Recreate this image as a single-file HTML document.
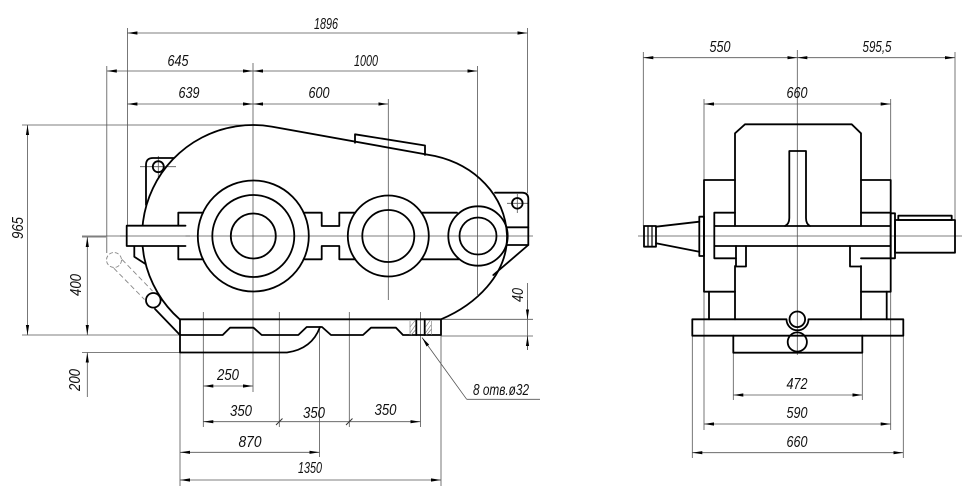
<!DOCTYPE html>
<html><head><meta charset="utf-8"><style>
html,body{margin:0;padding:0;background:#fff;}
svg{display:block;}
.k{stroke:#000;stroke-width:1.8;fill:none;stroke-linejoin:round;stroke-linecap:round;}
.t{stroke:#555;stroke-width:0.8;fill:none;}
.d{stroke:#555;stroke-width:0.8;fill:none;marker-start:url(#a);marker-end:url(#a);}
.e{stroke:#555;stroke-width:0.8;fill:none;marker-end:url(#a);}
.p{stroke:#888;stroke-width:0.9;fill:none;stroke-dasharray:5 3;}
text{font-family:"Liberation Sans",sans-serif;font-style:italic;font-size:16px;fill:#111;text-anchor:middle;}
</style></head><body>
<svg width="980" height="501" viewBox="0 0 980 501" xmlns="http://www.w3.org/2000/svg">
<defs>
<marker id="a" viewBox="0 0 10 4" refX="10" refY="2" markerWidth="10" markerHeight="4" markerUnits="userSpaceOnUse" orient="auto-start-reverse"><path d="M0,0.4L10,2L0,3.6z" fill="#000"/></marker>
</defs>

<!-- ===== LEFT VIEW: extension / center lines ===== -->
<g class="t">
<line x1="127.4" y1="28" x2="127.4" y2="226"/>
<line x1="106.8" y1="66" x2="106.8" y2="253"/>
<line x1="253" y1="63" x2="253" y2="392"/>
<line x1="388.3" y1="99" x2="388.3" y2="300"/>
<line x1="477.5" y1="66" x2="477.5" y2="295"/>
<line x1="527.5" y1="28" x2="527.5" y2="193"/>
<line x1="22" y1="125" x2="253" y2="125"/>
<line x1="82" y1="236" x2="533" y2="236"/>
<line x1="22" y1="335" x2="180" y2="335"/>
<line x1="82" y1="352.5" x2="180" y2="352.5"/>
<line x1="441" y1="319.3" x2="533" y2="319.3"/>
<line x1="441" y1="336" x2="533" y2="336"/>
<line x1="180" y1="352" x2="180" y2="486"/>
<line x1="203.3" y1="312" x2="203.3" y2="427"/>
<line x1="279.3" y1="312" x2="279.3" y2="427"/>
<line x1="319.5" y1="328" x2="319.5" y2="457"/>
<line x1="349.3" y1="312" x2="349.3" y2="427"/>
<line x1="420.5" y1="312" x2="420.5" y2="427"/>
<line x1="441" y1="335" x2="441" y2="486"/>
<line x1="140" y1="166.7" x2="176" y2="166.7"/>
<line x1="158.3" y1="156" x2="158.3" y2="177"/>
<line x1="507" y1="203.3" x2="528" y2="203.3"/>
<line x1="517.3" y1="194" x2="517.3" y2="213"/>
</g>

<!-- ===== LEFT VIEW: dimension lines ===== -->
<line class="d" x1="127.4" y1="33" x2="527.5" y2="33"/>
<line class="d" x1="106.8" y1="71" x2="253" y2="71"/>
<line class="d" x1="253" y1="71" x2="477.5" y2="71"/>
<line class="d" x1="127.4" y1="104" x2="253" y2="104"/>
<line class="d" x1="253" y1="104" x2="388.3" y2="104"/>
<line class="d" x1="27.5" y1="125" x2="27.5" y2="335"/>
<line class="d" x1="87.3" y1="237" x2="87.3" y2="335"/>
<line class="e" x1="87.3" y1="397" x2="87.3" y2="352.5"/>
<line class="t" x1="82" y1="237" x2="106" y2="237"/>
<line class="t" x1="527.5" y1="283" x2="527.5" y2="350"/>
<line class="e" x1="527.5" y1="300" x2="527.5" y2="319.3"/>
<line class="e" x1="527.5" y1="350" x2="527.5" y2="336"/>
<line class="d" x1="203.3" y1="386" x2="253" y2="386"/>
<line class="d" x1="203.3" y1="421.7" x2="420.5" y2="421.7"/>
<line class="t" x1="276" y1="425" x2="282.5" y2="418.5" style="stroke:#333;stroke-width:1"/>
<line class="t" x1="346" y1="425" x2="352.5" y2="418.5" style="stroke:#333;stroke-width:1"/>
<line class="d" x1="180" y1="452.3" x2="319.5" y2="452.3"/>
<line class="d" x1="180" y1="480" x2="441" y2="480"/>
<line class="t" x1="466.7" y1="399.3" x2="540" y2="399.3"/>
<line class="e" x1="466.7" y1="399.3" x2="422" y2="337.5"/>

<!-- ===== LEFT VIEW: housing ===== -->
<g class="k">
<path d="M179.7,319.3 A111,111 0 0 1 271.7,126.6 L435,156 C475,165 505,195 507,235 C508,275 475,305 441,319.3"/>
<path d="M355,142.8 L355,134.3 L425,145.5 L425,155"/>
<path d="M146,205 L146,165 Q146,158 153,158 L174,158"/>
<circle cx="158.3" cy="166.7" r="5.5"/>
<path d="M495,192.7 L522,192.7 Q528.3,192.7 528.3,199 L528.3,245 L493.3,275"/>
<circle cx="517.3" cy="203.3" r="5.3"/>
<line x1="506.4" y1="227.3" x2="528.3" y2="227.3"/>
<line x1="506.4" y1="245" x2="528.3" y2="245"/>
<path d="M134.3,246 L134.3,256.7 L145.5,264"/>
<circle cx="153.3" cy="300.3" r="7.3"/>
<line x1="155" y1="309" x2="180" y2="335"/>
<!-- base -->
<path d="M180,319.3 L441,319.3 L441,335 L403,335 L396,327.7 L371,327.7 L363,335 L331,335 L322,327 L306.7,327 L298.3,335 L261.7,335 L253.5,327.7 L230,327.7 L222.7,335 L180,335"/>
<path d="M180,319.3 L180,352.5 L287,352.5 Q312,349 320,327"/>
<line x1="416.3" y1="319.3" x2="416.3" y2="335"/>
<line x1="424.7" y1="319.3" x2="424.7" y2="335"/>
</g>
<!-- hatch -->
<g stroke="#777" stroke-width="0.6">
<line x1="410" y1="333" x2="415.5" y2="325"/><line x1="410" y1="327" x2="415.5" y2="320"/><line x1="411" y1="335" x2="415.5" y2="330"/>
<line x1="425.5" y1="333" x2="431" y2="325"/><line x1="425.5" y1="327" x2="430" y2="320.5"/><line x1="426.5" y1="335" x2="431.5" y2="329"/>
<line x1="410" y1="321" x2="410" y2="335"/><line x1="431.5" y1="321" x2="431.5" y2="335"/>
</g>
<!-- shaft with white under -->
<rect x="126.7" y="225.7" width="58.8" height="20.3" fill="#fff"/>
<line class="t" x1="120" y1="236" x2="190" y2="236"/>
<g class="k">
<path d="M185.5,225.7 L126.7,225.7 L126.7,246 L185.5,246"/>
<path d="M178.3,225.7 L178.3,212.7 L203,212.7"/>
<path d="M178.3,246 L178.3,259.3 L203,259.3"/>
<path d="M303.7,212.7 L321.7,212.7 L321.7,226 L339.3,226 L339.3,212.7 L355.2,212.7"/>
<path d="M303.7,259.3 L321.7,259.3 L321.7,246 L339.3,246 L339.3,259.3 L355.2,259.3"/>
<line x1="421.4" y1="212.7" x2="457" y2="212.7"/>
<line x1="421.4" y1="259.3" x2="459" y2="259.3"/>
<circle cx="253.3" cy="236" r="55.5"/>
<circle cx="253.3" cy="236" r="41"/>
<circle cx="253.3" cy="236" r="22.5"/>
<circle cx="388.3" cy="236" r="40.5"/>
<circle cx="388.3" cy="236" r="26"/>
<circle cx="478" cy="236" r="29.7"/>
<circle cx="478" cy="236" r="18.5"/>
</g>
<!-- phantom handle -->
<circle class="p" cx="114" cy="260" r="7.5" style="stroke-dasharray:4 2"/>
<line class="p" x1="122" y1="259.5" x2="152.5" y2="291"/>
<line class="p" x1="113.8" y1="268.2" x2="144.5" y2="299.5"/>

<!-- ===== LEFT VIEW TEXT ===== -->
<text x="326" y="29" textLength="24" lengthAdjust="spacingAndGlyphs">1896</text>
<text x="178" y="66" textLength="21" lengthAdjust="spacingAndGlyphs">645</text>
<text x="366" y="66" textLength="24" lengthAdjust="spacingAndGlyphs">1000</text>
<text x="189" y="98" textLength="21" lengthAdjust="spacingAndGlyphs">639</text>
<text x="319" y="98" textLength="21" lengthAdjust="spacingAndGlyphs">600</text>
<text transform="translate(23,228) rotate(-90)" textLength="22" lengthAdjust="spacingAndGlyphs">965</text>
<text transform="translate(81,285) rotate(-90)" textLength="22" lengthAdjust="spacingAndGlyphs">400</text>
<text transform="translate(80,380) rotate(-90)" textLength="22" lengthAdjust="spacingAndGlyphs">200</text>
<text transform="translate(523,295) rotate(-90)" textLength="14" lengthAdjust="spacingAndGlyphs">40</text>
<text x="228" y="380" textLength="22" lengthAdjust="spacingAndGlyphs">250</text>
<text x="241" y="416" textLength="22" lengthAdjust="spacingAndGlyphs">350</text>
<text x="314" y="418" textLength="22" lengthAdjust="spacingAndGlyphs">350</text>
<text x="385.5" y="415" textLength="22" lengthAdjust="spacingAndGlyphs">350</text>
<text x="250" y="447" textLength="23" lengthAdjust="spacingAndGlyphs">870</text>
<text x="310" y="473" textLength="24" lengthAdjust="spacingAndGlyphs">1350</text>
<text x="473" y="395" style="text-anchor:start" textLength="56" lengthAdjust="spacingAndGlyphs">8 отв.ø32</text>

<!-- ===== RIGHT VIEW: thin lines ===== -->
<g class="t">
<line x1="643.3" y1="52" x2="643.3" y2="226"/>
<line x1="955" y1="52" x2="955" y2="220"/>
<line x1="797.3" y1="50" x2="797.3" y2="355"/>
<line x1="704" y1="99" x2="704" y2="180"/>
<line x1="890.7" y1="99" x2="890.7" y2="180"/>
<line x1="704" y1="292" x2="704" y2="430"/>
<line x1="890.7" y1="292" x2="890.7" y2="430"/>
<line x1="692.3" y1="336" x2="692.3" y2="458"/>
<line x1="903.3" y1="336" x2="903.3" y2="458"/>
<line x1="733.3" y1="353" x2="733.3" y2="400"/>
<line x1="862.3" y1="353" x2="862.3" y2="400"/>
<line x1="638" y1="236" x2="962" y2="236"/>
</g>
<line class="d" x1="643.3" y1="57.7" x2="797.3" y2="57.7"/>
<line class="d" x1="797.3" y1="57.7" x2="955" y2="57.7"/>
<line class="d" x1="704" y1="104" x2="890.7" y2="104"/>
<line class="d" x1="733.3" y1="395" x2="862.3" y2="395"/>
<line class="d" x1="704" y1="424" x2="890.7" y2="424"/>
<line class="d" x1="692.3" y1="452.7" x2="903.3" y2="452.7"/>

<!-- ===== RIGHT VIEW: body ===== -->
<g class="k">
<path d="M735,226 L735,133.3 L745,124.3 L851.7,124.3 L861,133.3 L861,226"/>
<line x1="735" y1="266" x2="735" y2="319.3"/>
<line x1="861" y1="266" x2="861" y2="319.3"/>
<path d="M735,180 L704,180 L704,291.7 L735,291.7"/>
<line x1="709" y1="291.7" x2="709" y2="319.3"/>
<path d="M861,180 L890.7,180 L890.7,291.7 L861,291.7"/>
<line x1="886.7" y1="291.7" x2="886.7" y2="319.3"/>
<path d="M735,212.7 L714.3,212.7 L714.3,258.3 L736,258.3"/>
<line x1="861" y1="212.7" x2="890.7" y2="212.7"/>
<line x1="861" y1="258.3" x2="890.7" y2="258.3"/>
<path d="M736,246 L736,266.5 L746,266.5 L746,246"/>
<path d="M850,246 L850,266.5 L861,266.5"/>
<line x1="714.3" y1="226" x2="890.7" y2="226"/>
<line x1="714.3" y1="246" x2="890.7" y2="246"/>
<path d="M785,226 Q789.3,224 789.3,218 L789.3,151 L806,151 L806,218 Q806,224 810,226"/>
<rect x="699.3" y="216.7" width="4.7" height="39.3"/>
<path d="M699.3,221.7 L656,226.7 M699.3,251.7 L656,243.3"/>
<rect x="644" y="226" width="12" height="20.7"/>
<path d="M648,226 L648,246.7 M652,226 L652,246.7" style="stroke-width:1.2"/>
<rect x="890.7" y="213.3" width="4.3" height="45"/>
<rect x="895" y="220" width="60" height="32.7"/>
<rect x="898.3" y="215.7" width="53.4" height="4.3"/>
<path d="M692.3,319.3 L786.5,319.3 A11,11 0 0 0 808.5,319.3 L903.3,319.3 L903.3,335.7 L692.3,335.7 Z"/>
<path d="M733.3,335.7 L733.3,352.7 L862.3,352.7 L862.3,335.7"/>
<circle cx="797.3" cy="319.3" r="7.8"/>
<circle cx="797.3" cy="342" r="9.6"/>
</g>

<!-- ===== RIGHT VIEW TEXT ===== -->
<text x="720" y="52" textLength="21" lengthAdjust="spacingAndGlyphs">550</text>
<text x="877" y="52" textLength="29" lengthAdjust="spacingAndGlyphs">595,5</text>
<text x="797" y="98" textLength="21" lengthAdjust="spacingAndGlyphs">660</text>
<text x="797" y="389" textLength="21" lengthAdjust="spacingAndGlyphs">472</text>
<text x="797" y="418" textLength="21" lengthAdjust="spacingAndGlyphs">590</text>
<text x="797" y="447" textLength="21" lengthAdjust="spacingAndGlyphs">660</text>
</svg>
</body></html>
